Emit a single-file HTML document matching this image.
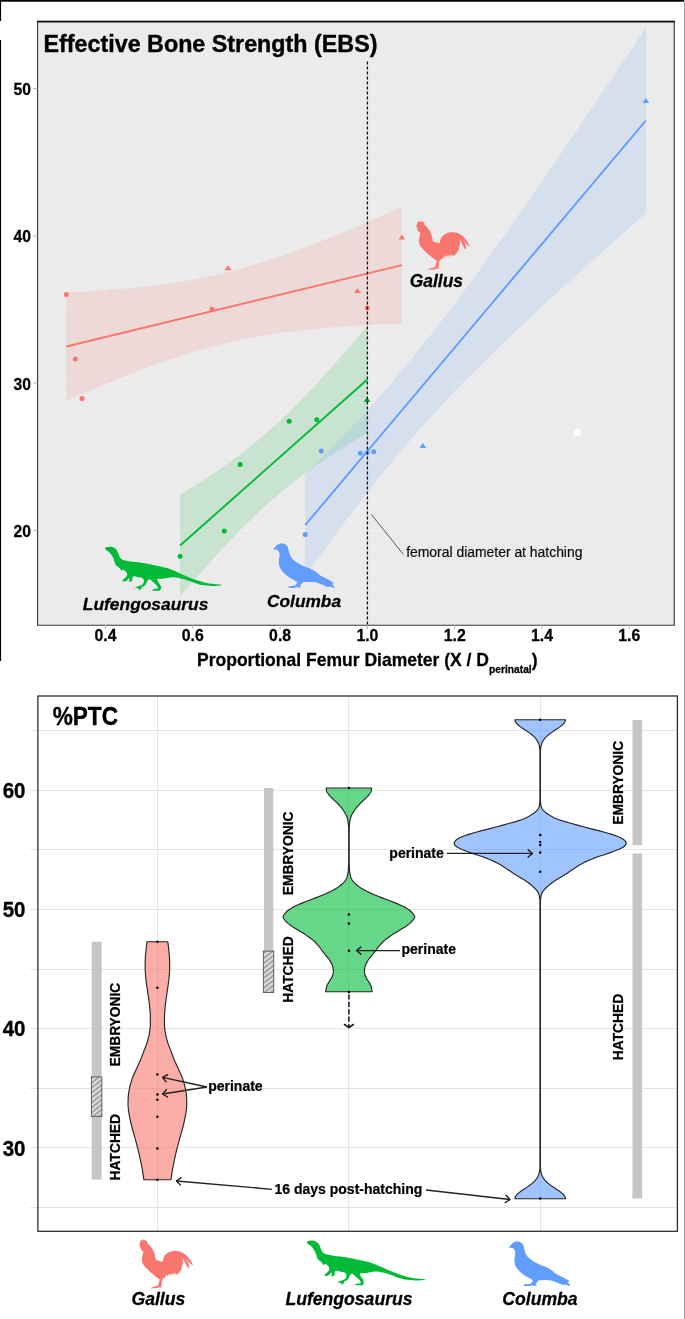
<!DOCTYPE html>
<html lang="en"><head><meta charset="utf-8"><title>EBS and %PTC figure</title>
<style>html,body{margin:0;padding:0;background:#fff}body{width:685px;height:1319px;overflow:hidden}</style></head>
<body>
<svg width="685" height="1319" viewBox="0 0 685 1319" style="display:block;font-family:'Liberation Sans',Arial,Helvetica,sans-serif">
<style>text[font-weight=bold]{stroke:#000;stroke-width:0.016em;stroke-linejoin:round}</style>
<defs>
<path id="rooster" fill="#F8766D" d="M0.63 3.89C0.85 3.26 0.78 2.75 1.09 2.08C1.39 1.41 1.77 0.67 2.17 0.54C2.57 0.42 2.66 1.56 3.08 1.45C3.49 1.34 3.84 0.05 4.25 0.00C4.67 -0.05 4.74 1.07 5.16 1.18C5.57 1.29 5.97 0.42 6.33 0.54C6.70 0.67 6.61 1.50 6.97 1.81C7.33 2.12 7.96 1.67 8.14 2.08C8.33 2.50 7.66 3.29 7.87 3.89C8.09 4.49 8.60 4.47 9.23 5.07C9.86 5.67 10.32 6.03 11.04 6.88C11.76 7.73 12.22 8.29 12.85 9.32C13.48 10.35 13.70 10.86 14.21 12.04C14.71 13.21 15.02 13.94 15.38 15.20C15.75 16.47 15.71 17.25 16.02 18.37C16.33 19.49 16.29 20.18 16.92 20.81C17.56 21.45 18.19 21.29 19.19 21.54C20.18 21.79 21.03 21.97 21.90 22.08C22.77 22.19 23.13 22.55 23.53 22.08C23.93 21.61 23.58 20.74 23.89 19.73C24.20 18.71 24.47 18.01 25.07 17.01C25.67 16.02 25.97 15.57 26.88 14.75C27.78 13.94 28.42 13.52 29.59 12.94C30.77 12.36 31.40 12.13 32.76 11.86C34.12 11.58 34.93 11.53 36.38 11.58C37.83 11.64 38.64 11.76 40.00 12.13C41.36 12.49 41.90 12.69 43.17 13.39C44.43 14.10 45.07 14.53 46.33 15.66C47.60 16.78 48.42 17.68 49.50 19.00C50.59 20.33 50.93 20.96 51.76 22.26C52.60 23.57 53.70 25.01 53.67 25.52C53.63 26.03 52.40 25.32 51.58 24.80C50.77 24.27 50.43 23.69 49.59 22.90C48.76 22.10 48.25 21.57 47.42 20.81C46.59 20.05 45.38 18.95 45.43 19.10C45.48 19.24 46.93 20.47 47.69 21.54C48.45 22.61 48.81 23.08 49.23 24.43C49.65 25.79 49.97 27.64 49.77 28.33C49.57 29.01 48.83 28.51 48.24 27.87C47.64 27.24 47.38 26.24 46.79 25.16C46.19 24.07 45.79 23.53 45.25 22.44C44.71 21.36 44.43 20.42 44.07 19.73C43.71 19.04 43.53 18.46 43.44 19.00C43.35 19.55 43.73 20.94 43.62 22.44C43.51 23.95 43.26 24.98 42.90 26.52C42.53 28.05 42.39 28.87 41.81 30.14C41.23 31.40 40.72 31.95 40.00 32.85C39.28 33.76 38.82 34.21 38.19 34.66C37.56 35.11 37.29 35.38 36.83 35.11C36.38 34.84 36.29 33.21 35.93 33.30C35.57 33.39 35.48 35.48 35.02 35.57C34.57 35.66 34.12 33.57 33.67 33.76C33.21 33.94 33.12 36.38 32.76 36.47C32.40 36.56 32.31 34.21 31.86 34.21C31.40 34.21 30.95 36.38 30.50 36.47C30.05 36.56 30.05 34.57 29.59 34.66C29.14 34.75 28.69 36.74 28.24 36.92C27.78 37.10 27.78 35.38 27.33 35.57C26.88 35.75 26.52 37.19 25.97 37.83C25.43 38.46 25.16 38.28 24.62 38.73C24.07 39.19 23.66 39.37 23.26 40.09C22.86 40.81 22.81 41.36 22.62 42.35C22.44 43.35 22.50 44.16 22.35 45.07C22.21 45.97 21.81 46.33 21.90 46.88C21.99 47.42 22.90 47.51 22.81 47.78C22.71 48.05 21.99 48.24 21.45 48.24C20.90 48.24 20.63 47.73 20.09 47.78C19.55 47.84 19.55 48.29 18.73 48.51C17.92 48.72 17.41 48.78 16.02 48.87C14.62 48.96 12.22 49.18 11.76 48.96C11.31 48.74 12.72 48.16 13.76 47.78C14.79 47.40 15.93 47.42 16.92 47.06C17.92 46.70 18.19 46.73 18.73 45.97C19.28 45.21 19.33 44.34 19.64 43.26C19.95 42.17 20.36 41.36 20.27 40.54C20.18 39.73 19.95 39.82 19.19 39.19C18.43 38.55 17.65 38.28 16.47 37.38C15.29 36.47 14.57 35.75 13.30 34.66C12.04 33.57 11.40 33.12 10.14 31.95C8.87 30.77 8.14 30.05 6.97 28.78C5.79 27.51 5.07 26.88 4.25 25.61C3.44 24.34 3.20 23.80 2.90 22.44C2.59 21.09 2.62 20.27 2.71 18.82C2.81 17.38 3.10 16.47 3.35 15.20C3.60 13.94 4.16 13.30 3.98 12.49C3.80 11.67 2.99 11.76 2.44 11.13C1.90 10.50 1.63 10.14 1.27 9.32C0.90 8.51 0.89 7.87 0.63 7.06C0.38 6.24 0.00 5.88 0.00 5.25C0.00 4.62 0.42 4.52 0.63 3.89Z"/>
<path id="pigeon" fill="#619CFF" d="M0.00 6.07C-0.23 5.63 0.86 4.69 1.52 3.85C2.17 3.01 2.45 2.55 3.27 1.87C4.09 1.19 4.55 0.84 5.61 0.47C6.66 0.09 7.36 -0.05 8.53 0.00C9.69 0.05 10.39 0.16 11.45 0.70C12.50 1.24 13.08 1.71 13.78 2.69C14.48 3.67 14.55 4.32 14.95 5.61C15.35 6.89 15.30 7.59 15.77 9.11C16.23 10.63 16.40 11.68 17.28 13.20C18.17 14.72 18.80 15.42 20.20 16.70C21.61 17.99 22.31 18.45 24.29 19.62C26.28 20.79 27.56 21.37 30.13 22.54C32.70 23.71 34.57 24.18 37.14 25.46C39.71 26.74 41.11 27.68 42.98 28.96C44.85 30.25 44.61 30.72 46.48 31.88C48.35 33.05 50.10 33.64 52.32 34.80C54.54 35.97 55.99 36.79 57.58 37.72C59.16 38.66 60.01 38.89 60.26 39.47C60.52 40.06 58.67 39.80 58.86 40.64C59.05 41.48 61.10 42.98 61.20 43.68C61.29 44.38 60.29 44.29 59.33 44.15C58.37 44.01 57.34 43.07 56.41 42.98C55.47 42.88 55.59 43.77 54.66 43.68C53.72 43.59 53.14 43.07 51.74 42.51C50.34 41.95 49.40 41.55 47.65 40.88C45.90 40.20 44.85 39.59 42.98 39.12C41.11 38.66 40.18 38.66 38.31 38.54C36.44 38.42 35.27 38.49 33.64 38.54C32.00 38.59 31.18 38.42 30.13 38.77C29.08 39.12 29.08 39.54 28.38 40.29C27.68 41.04 26.74 41.83 26.63 42.51C26.51 43.19 28.03 43.33 27.80 43.68C27.56 44.03 26.39 44.26 25.46 44.26C24.53 44.26 23.94 43.68 23.12 43.68C22.31 43.68 22.31 44.10 21.37 44.26C20.44 44.43 19.76 44.54 18.45 44.50C17.14 44.45 15.42 44.33 14.83 44.03C14.25 43.73 14.69 43.28 15.53 42.98C16.37 42.67 17.75 42.72 19.04 42.51C20.32 42.30 21.14 42.39 21.96 41.93C22.77 41.46 22.77 40.85 23.12 40.18C23.47 39.50 24.18 39.22 23.71 38.54C23.24 37.86 22.19 37.61 20.79 36.79C19.39 35.97 18.34 35.50 16.70 34.45C15.07 33.40 14.13 32.82 12.61 31.53C11.09 30.25 10.28 29.43 9.11 28.03C7.94 26.63 7.47 25.97 6.77 24.53C6.07 23.08 5.84 22.47 5.61 20.79C5.37 19.11 5.49 17.87 5.61 16.12C5.72 14.36 6.14 13.43 6.19 12.03C6.24 10.63 6.19 10.11 5.84 9.11C5.49 8.11 5.07 7.61 4.44 7.01C3.81 6.40 3.57 6.26 2.69 6.07C1.80 5.89 0.23 6.52 0.00 6.07Z"/>
<path id="dino" fill="#00BA38" d="M0.00 1.94C0.00 1.33 0.20 0.90 1.02 0.51C1.84 0.12 2.86 0.04 4.09 0.00C5.31 -0.04 6.03 -0.00 7.15 0.31C8.28 0.61 8.79 0.88 9.71 1.53C10.63 2.19 11.08 2.55 11.75 3.58C12.43 4.60 12.57 5.42 13.08 6.64C13.59 7.87 13.65 8.58 14.31 9.71C14.96 10.83 15.23 11.44 16.35 12.26C17.47 13.08 18.09 13.28 19.93 13.80C21.77 14.31 22.99 14.45 25.55 14.82C28.10 15.18 29.84 15.27 32.70 15.63C35.56 16.00 36.79 16.10 39.85 16.66C42.92 17.21 44.76 17.70 48.03 18.39C51.30 19.09 52.83 19.31 56.20 20.13C59.57 20.95 61.21 21.19 64.89 22.48C68.57 23.77 70.76 24.92 74.60 26.57C78.44 28.22 80.30 29.23 84.09 30.75C87.89 32.26 89.79 32.99 93.58 34.16C97.38 35.34 99.65 35.95 103.07 36.63C106.49 37.31 107.89 37.28 110.66 37.58C113.43 37.88 116.93 37.81 116.93 38.15C116.93 38.49 113.81 39.14 110.66 39.29C107.51 39.44 104.97 39.36 101.17 38.91C97.38 38.45 95.48 38.07 91.68 37.01C87.89 35.95 85.61 34.69 82.19 33.59C78.78 32.49 77.64 32.11 74.60 31.51C71.57 30.90 69.87 30.52 67.01 30.56C64.15 30.59 62.45 31.35 60.29 31.68C58.13 32.00 57.84 31.98 56.20 32.19C54.57 32.39 52.63 31.88 52.12 32.70C51.60 33.52 52.93 34.95 53.65 36.28C54.36 37.60 55.39 37.91 55.69 39.34C56.00 40.77 55.90 42.49 55.18 43.43C54.47 44.37 53.69 43.98 52.12 44.04C50.54 44.10 47.93 44.06 47.31 43.74C46.70 43.41 47.99 42.78 49.05 42.41C50.11 42.04 52.01 42.51 52.63 41.90C53.24 41.28 52.83 40.47 52.12 39.34C51.40 38.22 50.28 37.40 49.05 36.28C47.82 35.15 47.01 34.44 45.98 33.72C44.96 33.01 44.66 32.60 43.94 32.70C43.23 32.80 43.02 33.31 42.41 34.23C41.79 35.15 41.59 36.28 40.87 37.30C40.16 38.32 39.65 38.73 38.83 39.34C38.01 39.96 37.40 39.71 36.79 40.36C36.17 41.02 36.38 42.08 35.77 42.61C35.15 43.14 34.33 43.27 33.72 43.02C33.11 42.78 33.46 41.71 32.70 41.39C31.94 41.06 30.15 41.63 29.94 41.39C29.74 41.14 30.62 40.67 31.68 40.16C32.74 39.65 34.03 39.40 35.25 38.83C36.48 38.26 37.09 38.22 37.81 37.30C38.52 36.38 38.93 35.36 38.83 34.23C38.73 33.11 38.32 32.39 37.30 31.68C36.28 30.96 35.46 31.06 33.72 30.66C31.98 30.25 29.88 29.53 28.61 29.63C27.35 29.74 27.69 30.35 27.39 31.17C27.08 31.98 27.45 32.92 27.08 33.72C26.71 34.52 26.16 34.93 25.55 35.15C24.93 35.38 24.22 35.34 24.01 34.85C23.81 34.36 24.63 33.33 24.52 32.70C24.42 32.07 24.01 31.47 23.50 31.68C22.99 31.88 22.79 33.09 21.97 33.72C21.15 34.36 20.38 34.72 19.42 34.85C18.45 34.97 17.27 34.87 17.17 34.33C17.07 33.80 18.05 33.13 18.90 32.19C19.76 31.25 20.85 30.66 21.46 29.63C22.07 28.61 22.17 28.10 21.97 27.08C21.77 26.06 21.25 25.34 20.44 24.52C19.62 23.71 18.70 23.09 17.88 22.99C17.07 22.89 16.96 24.22 16.35 24.01C15.74 23.81 15.43 22.69 14.82 21.97C14.20 21.25 14.00 21.05 13.28 20.44C12.57 19.82 11.96 19.72 11.24 18.90C10.53 18.09 10.22 17.58 9.71 16.35C9.20 15.12 9.20 14.10 8.69 12.77C8.17 11.44 7.87 10.93 7.15 9.71C6.44 8.48 5.93 7.66 5.11 6.64C4.29 5.62 3.88 5.21 3.07 4.60C2.25 3.99 1.63 4.11 1.02 3.58C0.41 3.05 0.00 2.55 0.00 1.94Z"/>
<pattern id="hatch" width="3.9" height="3.9" patternUnits="userSpaceOnUse" patternTransform="rotate(-38)"><rect width="3.9" height="3.9" fill="#dedede"/><line x1="0" y1="1" x2="3.9" y2="1" stroke="#3a3a3a" stroke-width="0.7"/></pattern>
<clipPath id="cpTop"><rect x="38" y="22" width="636" height="603"/></clipPath>
</defs>
<rect width="685" height="1319" fill="#fff"/>
<rect x="0" y="0" width="684.3" height="1.7" fill="#000"/>
<rect x="684.2" y="1.7" width="0.8" height="1317.3" fill="#8c8c8c"/>
<rect x="0" y="0" width="1.1" height="21" fill="#000"/>
<rect x="0" y="40" width="1.1" height="621" fill="#000"/>
<rect x="37.5" y="21.6" width="636.7" height="603.4" fill="#ebebeb"/>
<line x1="37.5" x2="674.2" y1="604.1" y2="604.1" stroke="#f0f0f0" stroke-width="1"/>
<line x1="37.5" x2="674.2" y1="530.4" y2="530.4" stroke="#f0f0f0" stroke-width="1"/>
<line x1="37.5" x2="674.2" y1="456.8" y2="456.8" stroke="#f0f0f0" stroke-width="1"/>
<line x1="37.5" x2="674.2" y1="383.1" y2="383.1" stroke="#f0f0f0" stroke-width="1"/>
<line x1="37.5" x2="674.2" y1="309.5" y2="309.5" stroke="#f0f0f0" stroke-width="1"/>
<line x1="37.5" x2="674.2" y1="235.8" y2="235.8" stroke="#f0f0f0" stroke-width="1"/>
<line x1="37.5" x2="674.2" y1="162.2" y2="162.2" stroke="#f0f0f0" stroke-width="1"/>
<line x1="37.5" x2="674.2" y1="88.5" y2="88.5" stroke="#f0f0f0" stroke-width="1"/>
<line x1="105.5" x2="105.5" y1="21.6" y2="625.0" stroke="#f0f0f0" stroke-width="1"/>
<line x1="192.8" x2="192.8" y1="21.6" y2="625.0" stroke="#f0f0f0" stroke-width="1"/>
<line x1="280.1" x2="280.1" y1="21.6" y2="625.0" stroke="#f0f0f0" stroke-width="1"/>
<line x1="367.4" x2="367.4" y1="21.6" y2="625.0" stroke="#f0f0f0" stroke-width="1"/>
<line x1="454.7" x2="454.7" y1="21.6" y2="625.0" stroke="#f0f0f0" stroke-width="1"/>
<line x1="542.0" x2="542.0" y1="21.6" y2="625.0" stroke="#f0f0f0" stroke-width="1"/>
<line x1="629.3" x2="629.3" y1="21.6" y2="625.0" stroke="#f0f0f0" stroke-width="1"/>
<g clip-path="url(#cpTop)">
<path d="M66.30 292.21L74.91 291.81L83.51 291.38L92.12 290.89L100.72 290.36L109.33 289.76L117.93 289.10L126.54 288.38L135.14 287.57L143.75 286.68L152.35 285.70L160.96 284.62L169.56 283.43L178.17 282.13L186.77 280.71L195.38 279.16L203.98 277.47L212.59 275.64L221.19 273.67L229.80 271.56L238.40 269.30L247.01 266.90L255.61 264.37L264.22 261.70L272.82 258.91L281.43 255.99L290.03 252.97L298.64 249.84L307.24 246.61L315.85 243.30L324.45 239.90L333.06 236.44L341.66 232.90L350.27 229.30L358.87 225.65L367.48 221.94L376.08 218.19L384.69 214.40L393.29 210.57L401.90 206.70L401.90 323.70L393.29 324.00L384.69 324.34L376.08 324.72L367.48 325.13L358.87 325.60L350.27 326.11L341.66 326.69L333.06 327.32L324.45 328.02L315.85 328.79L307.24 329.65L298.64 330.59L290.03 331.63L281.43 332.77L272.82 334.03L264.22 335.41L255.61 336.91L247.01 338.54L238.40 340.31L229.80 342.23L221.19 344.28L212.59 346.48L203.98 348.82L195.38 351.31L186.77 353.92L178.17 356.67L169.56 359.53L160.96 362.52L152.35 365.61L143.75 368.79L135.14 372.07L126.54 375.44L117.93 378.88L109.33 382.39L100.72 385.97L92.12 389.60L83.51 393.28L74.91 397.02L66.30 400.79Z" fill="#F8766D" fill-opacity="0.15"/>
<path d="M180.10 494.50L184.89 491.61L189.69 488.68L194.48 485.70L199.28 482.68L204.07 479.61L208.87 476.48L213.66 473.30L218.46 470.05L223.25 466.73L228.05 463.34L232.84 459.87L237.64 456.32L242.43 452.68L247.23 448.95L252.02 445.12L256.82 441.20L261.61 437.17L266.41 433.04L271.20 428.81L276.00 424.47L280.79 420.03L285.59 415.49L290.38 410.84L295.18 406.10L299.97 401.27L304.77 396.35L309.56 391.34L314.36 386.26L319.15 381.10L323.95 375.87L328.74 370.58L333.54 365.23L338.33 359.82L343.13 354.35L347.92 348.85L352.72 343.29L357.51 337.70L362.31 332.07L367.10 326.40L367.10 433.20L362.31 436.03L357.51 438.90L352.72 441.80L347.92 444.74L343.13 447.73L338.33 450.77L333.54 453.86L328.74 457.00L323.95 460.20L319.15 463.47L314.36 466.81L309.56 470.23L304.77 473.72L299.97 477.29L295.18 480.96L290.38 484.72L285.59 488.57L280.79 492.52L276.00 496.58L271.20 500.74L266.41 505.00L261.61 509.37L256.82 513.84L252.02 518.42L247.23 523.09L242.43 527.85L237.64 532.71L232.84 537.66L228.05 542.69L223.25 547.79L218.46 552.97L213.66 558.22L208.87 563.53L204.07 568.90L199.28 574.33L194.48 579.80L189.69 585.33L184.89 590.89L180.10 596.50Z" fill="#00BA38" fill-opacity="0.15"/>
<path d="M305.20 474.10L313.94 465.54L322.67 456.87L331.41 448.07L340.14 439.12L348.88 430.02L357.62 420.75L366.35 411.28L375.09 401.62L383.82 391.75L392.56 381.67L401.29 371.36L410.03 360.83L418.77 350.08L427.50 339.11L436.24 327.94L444.97 316.57L453.71 305.03L462.45 293.31L471.18 281.45L479.92 269.45L488.65 257.32L497.39 245.08L506.13 232.75L514.86 220.32L523.60 207.81L532.33 195.23L541.07 182.59L549.81 169.89L558.54 157.13L567.28 144.34L576.01 131.50L584.75 118.62L593.48 105.71L602.22 92.77L610.96 79.80L619.69 66.81L628.43 53.79L637.16 40.75L645.90 27.70L645.90 213.30L637.16 221.00L628.43 228.71L619.69 236.44L610.96 244.19L602.22 251.98L593.48 259.78L584.75 267.62L576.01 275.49L567.28 283.40L558.54 291.35L549.81 299.35L541.07 307.40L532.33 315.50L523.60 323.67L514.86 331.91L506.13 340.23L497.39 348.64L488.65 357.15L479.92 365.78L471.18 374.52L462.45 383.41L453.71 392.45L444.97 401.65L436.24 411.03L427.50 420.61L418.77 430.39L410.03 440.39L401.29 450.60L392.56 461.05L383.82 471.71L375.09 482.59L366.35 493.67L357.62 504.96L348.88 516.44L340.14 528.08L331.41 539.88L322.67 551.83L313.94 563.91L305.20 576.10Z" fill="#619CFF" fill-opacity="0.15"/>
<line x1="66.3" y1="346.5" x2="401.9" y2="265.2" stroke="#F8766D" stroke-width="1.9"/>
<line x1="180.1" y1="545.5" x2="367.1" y2="379.8" stroke="#00BA38" stroke-width="1.9"/>
<line x1="305.2" y1="525.1" x2="645.9" y2="120.5" stroke="#619CFF" stroke-width="1.9"/>
<circle cx="66.3" cy="294.4" r="2.5" fill="#F8766D"/>
<circle cx="75.3" cy="359.0" r="2.5" fill="#F8766D"/>
<circle cx="82.0" cy="398.5" r="2.5" fill="#F8766D"/>
<circle cx="212.0" cy="309.3" r="2.5" fill="#F8766D"/>
<circle cx="367.2" cy="307.9" r="2.5" fill="#F8766D"/>
<path d="M228.0 265.2 L231.3 270.2 L224.7 270.2 Z" fill="#F8766D"/>
<path d="M357.4 288.0 L360.7 293.0 L354.1 293.0 Z" fill="#F8766D"/>
<path d="M401.9 234.4 L405.2 239.4 L398.6 239.4 Z" fill="#F8766D"/>
<circle cx="180.1" cy="556.3" r="2.5" fill="#00BA38"/>
<circle cx="224.3" cy="531.0" r="2.5" fill="#00BA38"/>
<circle cx="240.2" cy="464.6" r="2.5" fill="#00BA38"/>
<circle cx="289.2" cy="421.3" r="2.5" fill="#00BA38"/>
<circle cx="316.8" cy="419.8" r="2.5" fill="#00BA38"/>
<path d="M367.1 396.9 L370.4 401.9 L363.8 401.9 Z" fill="#00A030"/>
<circle cx="305.2" cy="534.5" r="2.5" fill="#619CFF"/>
<circle cx="321.2" cy="451.0" r="2.5" fill="#619CFF"/>
<circle cx="360.4" cy="453.3" r="2.5" fill="#619CFF"/>
<circle cx="367.0" cy="452.7" r="2.5" fill="#619CFF"/>
<circle cx="373.8" cy="451.7" r="2.5" fill="#619CFF"/>
<path d="M422.8 442.9 L426.1 447.9 L419.5 447.9 Z" fill="#619CFF"/>
<path d="M645.9 97.9 L649.2 102.9 L642.6 102.9 Z" fill="#619CFF"/>
<circle cx="577.3" cy="432.3" r="3.6" fill="#fff"/>
</g>
<line x1="367.4" x2="367.4" y1="61.4" y2="625" stroke="#111" stroke-width="1.3" stroke-dasharray="3.2 1.8"/>
<line x1="371.2" y1="514.3" x2="403.3" y2="554.3" stroke="#333" stroke-width="0.8"/>
<text x="406.2" y="556.9" font-size="13.92" fill="#0a0a0a" stroke="#0a0a0a" stroke-width="0.18">femoral diameter at hatching</text>
<use href="#rooster" x="416.34" y="220.71"/>
<use href="#pigeon" x="273.41" y="543.41"/>
<use href="#dino" x="105.11" y="546.64"/>
<text transform="translate(409.8 286.8) scale(1 1.05)" font-size="17.4" font-weight="bold" font-style="italic">Gallus</text>
<text x="82.8" y="610" font-size="17.4" font-weight="bold" font-style="italic">Lufengosaurus</text>
<text x="341" y="607.2" font-size="17.3" font-weight="bold" font-style="italic" text-anchor="end">Columba</text>
<path d="M37.55 21 V625.25 H674.3 V21" fill="none" stroke="#3a3a3a" stroke-width="1.15" stroke-linejoin="miter"/>
<rect x="37" y="20.7" width="637.9" height="1.8" fill="#0a0a0a"/>
<text x="43.5" y="51.6" font-size="23.3" font-weight="bold">Effective Bone Strength (EBS)</text>
<line x1="33.5" x2="37.5" y1="530.4" y2="530.4" stroke="#b5b5b5" stroke-width="1"/>
<text transform="translate(31 537.0) scale(1 1.06)" font-size="15.7" font-weight="bold" text-anchor="end">20</text>
<line x1="33.5" x2="37.5" y1="383.1" y2="383.1" stroke="#b5b5b5" stroke-width="1"/>
<text transform="translate(31 389.7) scale(1 1.06)" font-size="15.7" font-weight="bold" text-anchor="end">30</text>
<line x1="33.5" x2="37.5" y1="235.8" y2="235.8" stroke="#b5b5b5" stroke-width="1"/>
<text transform="translate(31 242.4) scale(1 1.06)" font-size="15.7" font-weight="bold" text-anchor="end">40</text>
<line x1="33.5" x2="37.5" y1="88.5" y2="88.5" stroke="#b5b5b5" stroke-width="1"/>
<text transform="translate(31 95.1) scale(1 1.06)" font-size="15.7" font-weight="bold" text-anchor="end">50</text>
<line x1="105.5" x2="105.5" y1="625.0" y2="629" stroke="#b5b5b5" stroke-width="1"/>
<text x="105.5" y="640.7" font-size="15.8" font-weight="bold" text-anchor="middle">0.4</text>
<line x1="192.8" x2="192.8" y1="625.0" y2="629" stroke="#b5b5b5" stroke-width="1"/>
<text x="192.8" y="640.7" font-size="15.8" font-weight="bold" text-anchor="middle">0.6</text>
<line x1="280.1" x2="280.1" y1="625.0" y2="629" stroke="#b5b5b5" stroke-width="1"/>
<text x="280.1" y="640.7" font-size="15.8" font-weight="bold" text-anchor="middle">0.8</text>
<line x1="367.4" x2="367.4" y1="625.0" y2="629" stroke="#b5b5b5" stroke-width="1"/>
<text x="367.4" y="640.7" font-size="15.8" font-weight="bold" text-anchor="middle">1.0</text>
<line x1="454.7" x2="454.7" y1="625.0" y2="629" stroke="#b5b5b5" stroke-width="1"/>
<text x="454.7" y="640.7" font-size="15.8" font-weight="bold" text-anchor="middle">1.2</text>
<line x1="542.0" x2="542.0" y1="625.0" y2="629" stroke="#b5b5b5" stroke-width="1"/>
<text x="542.0" y="640.7" font-size="15.8" font-weight="bold" text-anchor="middle">1.4</text>
<line x1="629.3" x2="629.3" y1="625.0" y2="629" stroke="#b5b5b5" stroke-width="1"/>
<text x="629.3" y="640.7" font-size="15.8" font-weight="bold" text-anchor="middle">1.6</text>
<text x="197" y="665.5" font-size="17.52" font-weight="bold">Proportional Femur Diameter (X / D<tspan font-size="10.25" dy="7.2">perinatal</tspan><tspan dy="-7.2">)</tspan></text>
<rect x="37.9" y="696.0" width="639.5" height="535.3" fill="#fff"/>
<line x1="30.5" x2="677.4" y1="1207.5" y2="1207.5" stroke="#e4e4e4" stroke-width="1"/>
<line x1="30.5" x2="677.4" y1="1147.5" y2="1147.5" stroke="#e4e4e4" stroke-width="1"/>
<line x1="30.5" x2="677.4" y1="1088.5" y2="1088.5" stroke="#e4e4e4" stroke-width="1"/>
<line x1="30.5" x2="677.4" y1="1028.5" y2="1028.5" stroke="#e4e4e4" stroke-width="1"/>
<line x1="30.5" x2="677.4" y1="969.5" y2="969.5" stroke="#e4e4e4" stroke-width="1"/>
<line x1="30.5" x2="677.4" y1="909.5" y2="909.5" stroke="#e4e4e4" stroke-width="1"/>
<line x1="30.5" x2="677.4" y1="849.5" y2="849.5" stroke="#e4e4e4" stroke-width="1"/>
<line x1="30.5" x2="677.4" y1="790.5" y2="790.5" stroke="#e4e4e4" stroke-width="1"/>
<line x1="30.5" x2="677.4" y1="730.5" y2="730.5" stroke="#e4e4e4" stroke-width="1"/>
<line x1="157.5" x2="157.5" y1="696.0" y2="1231.3" stroke="#e4e4e4" stroke-width="1"/>
<line x1="348.5" x2="348.5" y1="696.0" y2="1231.3" stroke="#e4e4e4" stroke-width="1"/>
<line x1="540.5" x2="540.5" y1="696.0" y2="1231.3" stroke="#e4e4e4" stroke-width="1"/>
<rect x="91.7" y="941.7" width="9.9" height="237.9" fill="#c6c6c6"/>
<rect x="91.3" y="1076.9" width="10.6" height="39.4" fill="url(#hatch)" stroke="#444" stroke-width="0.8"/>
<rect x="264.0" y="788.0" width="9.3" height="203.6" fill="#c6c6c6"/>
<rect x="263.3" y="951.1" width="10.5" height="41.5" fill="url(#hatch)" stroke="#444" stroke-width="0.8"/>
<rect x="632.5" y="720.0" width="9.7" height="125.2" fill="#c6c6c6"/>
<rect x="632.5" y="853.4" width="9.7" height="345.1" fill="#c6c6c6"/>
<text transform="translate(120.3 1024.6) rotate(-90)" font-size="13.8" font-weight="bold" text-anchor="middle">EMBRYONIC</text>
<text transform="translate(120.3 1147.2) rotate(-90)" font-size="13.8" font-weight="bold" text-anchor="middle">HATCHED</text>
<path d="M147.01 941.77L146.88 942.69L146.76 943.61L146.64 944.53L146.53 945.45L146.42 946.37L146.32 947.29L146.21 948.20L146.12 949.12L146.02 950.04L145.92 950.96L145.82 951.88L145.73 952.80L145.63 953.72L145.55 954.64L145.47 955.55L145.40 956.47L145.35 957.39L145.31 958.31L145.29 959.23L145.26 960.15L145.23 961.07L145.21 961.98L145.19 962.90L145.17 963.82L145.16 964.74L145.15 965.66L145.14 966.58L145.14 967.50L145.14 968.42L145.16 969.33L145.19 970.25L145.24 971.17L145.29 972.09L145.35 973.01L145.42 973.93L145.49 974.85L145.56 975.76L145.63 976.68L145.71 977.60L145.80 978.52L145.89 979.44L146.00 980.36L146.12 981.28L146.24 982.19L146.37 983.11L146.50 984.03L146.63 984.95L146.76 985.87L146.89 986.79L147.02 987.71L147.15 988.63L147.29 989.54L147.43 990.46L147.58 991.38L147.72 992.30L147.86 993.22L148.00 994.14L148.14 995.06L148.27 995.97L148.40 996.89L148.53 997.81L148.66 998.73L148.79 999.65L148.91 1000.57L149.04 1001.49L149.16 1002.41L149.27 1003.32L149.37 1004.24L149.47 1005.16L149.56 1006.08L149.66 1007.00L149.75 1007.92L149.84 1008.84L149.93 1009.75L150.01 1010.67L150.08 1011.59L150.14 1012.51L150.19 1013.43L150.22 1014.35L150.24 1015.27L150.25 1016.19L150.27 1017.10L150.29 1018.02L150.30 1018.94L150.31 1019.86L150.32 1020.78L150.33 1021.70L150.33 1022.62L150.33 1023.53L150.33 1024.45L150.29 1025.37L150.24 1026.29L150.16 1027.21L150.07 1028.13L149.96 1029.05L149.84 1029.97L149.72 1030.88L149.59 1031.80L149.45 1032.72L149.32 1033.64L149.16 1034.56L148.97 1035.48L148.76 1036.40L148.54 1037.31L148.29 1038.23L148.04 1039.15L147.77 1040.07L147.50 1040.99L147.23 1041.91L146.95 1042.83L146.65 1043.75L146.33 1044.66L145.99 1045.58L145.64 1046.50L145.28 1047.42L144.92 1048.34L144.55 1049.26L144.18 1050.18L143.82 1051.09L143.48 1052.01L143.14 1052.93L142.80 1053.85L142.46 1054.77L142.13 1055.69L141.79 1056.61L141.44 1057.53L141.09 1058.44L140.72 1059.36L140.35 1060.28L139.96 1061.20L139.55 1062.12L139.13 1063.04L138.71 1063.96L138.28 1064.87L137.84 1065.79L137.41 1066.71L136.98 1067.63L136.56 1068.55L136.15 1069.47L135.73 1070.39L135.31 1071.31L134.89 1072.22L134.46 1073.14L134.05 1074.06L133.64 1074.98L133.24 1075.90L132.87 1076.82L132.51 1077.74L132.18 1078.65L131.87 1079.57L131.57 1080.49L131.28 1081.41L130.99 1082.33L130.72 1083.25L130.46 1084.17L130.21 1085.09L129.98 1086.00L129.77 1086.92L129.58 1087.84L129.41 1088.76L129.23 1089.68L129.06 1090.60L128.90 1091.52L128.74 1092.43L128.60 1093.35L128.47 1094.27L128.37 1095.19L128.28 1096.11L128.22 1097.03L128.18 1097.95L128.14 1098.87L128.11 1099.78L128.08 1100.70L128.06 1101.62L128.04 1102.54L128.03 1103.46L128.03 1104.38L128.05 1105.30L128.09 1106.21L128.17 1107.13L128.26 1108.05L128.37 1108.97L128.48 1109.89L128.60 1110.81L128.71 1111.73L128.84 1112.65L128.98 1113.56L129.14 1114.48L129.31 1115.40L129.49 1116.32L129.68 1117.24L129.87 1118.16L130.07 1119.08L130.27 1119.99L130.46 1120.91L130.66 1121.83L130.87 1122.75L131.08 1123.67L131.30 1124.59L131.53 1125.51L131.76 1126.43L131.99 1127.34L132.23 1128.26L132.47 1129.18L132.71 1130.10L132.95 1131.02L133.20 1131.94L133.46 1132.86L133.72 1133.77L133.98 1134.69L134.25 1135.61L134.51 1136.53L134.78 1137.45L135.04 1138.37L135.29 1139.29L135.54 1140.21L135.80 1141.12L136.05 1142.04L136.30 1142.96L136.56 1143.88L136.81 1144.80L137.05 1145.72L137.30 1146.64L137.53 1147.55L137.77 1148.47L137.99 1149.39L138.22 1150.31L138.44 1151.23L138.66 1152.15L138.87 1153.07L139.08 1153.99L139.29 1154.90L139.50 1155.82L139.70 1156.74L139.90 1157.66L140.10 1158.58L140.30 1159.50L140.50 1160.42L140.70 1161.33L140.89 1162.25L141.09 1163.17L141.28 1164.09L141.46 1165.01L141.64 1165.93L141.82 1166.85L141.98 1167.77L142.15 1168.68L142.31 1169.60L142.46 1170.52L142.61 1171.44L142.76 1172.36L142.91 1173.28L143.05 1174.20L143.19 1175.11L143.33 1176.03L143.47 1176.95L143.60 1177.87L143.73 1178.79L143.85 1179.71L170.95 1179.71L171.07 1178.79L171.20 1177.87L171.33 1176.95L171.47 1176.03L171.61 1175.11L171.75 1174.20L171.89 1173.28L172.04 1172.36L172.19 1171.44L172.34 1170.52L172.49 1169.60L172.65 1168.68L172.82 1167.77L172.98 1166.85L173.16 1165.93L173.34 1165.01L173.52 1164.09L173.71 1163.17L173.91 1162.25L174.10 1161.33L174.30 1160.42L174.50 1159.50L174.70 1158.58L174.90 1157.66L175.10 1156.74L175.30 1155.82L175.51 1154.90L175.72 1153.99L175.93 1153.07L176.14 1152.15L176.36 1151.23L176.58 1150.31L176.81 1149.39L177.03 1148.47L177.27 1147.55L177.50 1146.64L177.75 1145.72L177.99 1144.80L178.24 1143.88L178.50 1142.96L178.75 1142.04L179.00 1141.12L179.26 1140.21L179.51 1139.29L179.76 1138.37L180.02 1137.45L180.29 1136.53L180.55 1135.61L180.82 1134.69L181.08 1133.77L181.34 1132.86L181.60 1131.94L181.85 1131.02L182.09 1130.10L182.33 1129.18L182.57 1128.26L182.81 1127.34L183.04 1126.43L183.27 1125.51L183.50 1124.59L183.72 1123.67L183.93 1122.75L184.14 1121.83L184.34 1120.91L184.53 1119.99L184.73 1119.08L184.93 1118.16L185.12 1117.24L185.31 1116.32L185.49 1115.40L185.66 1114.48L185.82 1113.56L185.96 1112.65L186.09 1111.73L186.20 1110.81L186.32 1109.89L186.43 1108.97L186.54 1108.05L186.63 1107.13L186.71 1106.21L186.75 1105.30L186.77 1104.38L186.77 1103.46L186.76 1102.54L186.74 1101.62L186.72 1100.70L186.69 1099.78L186.66 1098.87L186.62 1097.95L186.58 1097.03L186.52 1096.11L186.43 1095.19L186.33 1094.27L186.20 1093.35L186.06 1092.43L185.90 1091.52L185.74 1090.60L185.57 1089.68L185.39 1088.76L185.22 1087.84L185.03 1086.92L184.82 1086.00L184.59 1085.09L184.34 1084.17L184.08 1083.25L183.81 1082.33L183.52 1081.41L183.23 1080.49L182.93 1079.57L182.62 1078.65L182.29 1077.74L181.93 1076.82L181.56 1075.90L181.16 1074.98L180.75 1074.06L180.34 1073.14L179.91 1072.22L179.49 1071.31L179.07 1070.39L178.65 1069.47L178.24 1068.55L177.82 1067.63L177.39 1066.71L176.96 1065.79L176.52 1064.87L176.09 1063.96L175.67 1063.04L175.25 1062.12L174.84 1061.20L174.45 1060.28L174.08 1059.36L173.71 1058.44L173.36 1057.53L173.01 1056.61L172.67 1055.69L172.34 1054.77L172.00 1053.85L171.66 1052.93L171.32 1052.01L170.98 1051.09L170.62 1050.18L170.25 1049.26L169.88 1048.34L169.52 1047.42L169.16 1046.50L168.81 1045.58L168.47 1044.66L168.15 1043.75L167.85 1042.83L167.57 1041.91L167.30 1040.99L167.03 1040.07L166.76 1039.15L166.51 1038.23L166.26 1037.31L166.04 1036.40L165.83 1035.48L165.64 1034.56L165.48 1033.64L165.35 1032.72L165.21 1031.80L165.08 1030.88L164.96 1029.97L164.84 1029.05L164.73 1028.13L164.64 1027.21L164.56 1026.29L164.51 1025.37L164.47 1024.45L164.47 1023.53L164.47 1022.62L164.47 1021.70L164.48 1020.78L164.49 1019.86L164.50 1018.94L164.51 1018.02L164.53 1017.10L164.55 1016.19L164.56 1015.27L164.58 1014.35L164.61 1013.43L164.66 1012.51L164.72 1011.59L164.79 1010.67L164.87 1009.75L164.96 1008.84L165.05 1007.92L165.14 1007.00L165.24 1006.08L165.33 1005.16L165.43 1004.24L165.53 1003.32L165.64 1002.41L165.76 1001.49L165.89 1000.57L166.01 999.65L166.14 998.73L166.27 997.81L166.40 996.89L166.53 995.97L166.66 995.06L166.80 994.14L166.94 993.22L167.08 992.30L167.22 991.38L167.37 990.46L167.51 989.54L167.65 988.63L167.78 987.71L167.91 986.79L168.04 985.87L168.17 984.95L168.30 984.03L168.43 983.11L168.56 982.19L168.68 981.28L168.80 980.36L168.91 979.44L169.00 978.52L169.09 977.60L169.17 976.68L169.24 975.76L169.31 974.85L169.38 973.93L169.45 973.01L169.51 972.09L169.56 971.17L169.61 970.25L169.64 969.33L169.66 968.42L169.66 967.50L169.66 966.58L169.65 965.66L169.64 964.74L169.63 963.82L169.61 962.90L169.59 961.98L169.57 961.07L169.54 960.15L169.51 959.23L169.49 958.31L169.45 957.39L169.40 956.47L169.33 955.55L169.25 954.64L169.17 953.72L169.07 952.80L168.98 951.88L168.88 950.96L168.78 950.04L168.68 949.12L168.59 948.20L168.48 947.29L168.38 946.37L168.27 945.45L168.16 944.53L168.04 943.61L167.92 942.69L167.79 941.77Z" fill="#F8766D" fill-opacity="0.6" stroke="#262626" stroke-width="1.15" stroke-linejoin="round"/>
<path d="M326.20 788.00L326.23 788.79L326.31 789.57L326.43 790.36L326.65 791.15L327.00 791.93L327.46 792.72L327.99 793.51L328.56 794.29L329.14 795.08L329.74 795.87L330.45 796.65L331.24 797.44L332.08 798.23L332.94 799.01L333.78 799.80L334.59 800.59L335.39 801.37L336.21 802.16L337.02 802.95L337.82 803.73L338.60 804.52L339.33 805.31L340.02 806.09L340.70 806.88L341.35 807.67L341.98 808.46L342.58 809.24L343.15 810.03L343.68 810.82L344.19 811.60L344.68 812.39L345.16 813.18L345.60 813.96L346.00 814.75L346.35 815.54L346.64 816.32L346.92 817.11L347.17 817.90L347.40 818.68L347.61 819.47L347.78 820.26L347.92 821.04L348.05 821.83L348.17 822.62L348.28 823.40L348.37 824.19L348.44 824.98L348.49 825.76L348.52 826.55L348.54 827.34L348.56 828.12L348.58 828.91L348.60 829.70L348.61 830.48L348.62 831.27L348.63 832.06L348.64 832.84L348.65 833.63L348.65 834.42L348.65 835.20L348.65 835.99L348.65 836.78L348.65 837.56L348.65 838.35L348.65 839.14L348.65 839.92L348.65 840.71L348.65 841.50L348.65 842.28L348.65 843.07L348.65 843.86L348.65 844.64L348.65 845.43L348.65 846.22L348.65 847.00L348.65 847.79L348.65 848.58L348.65 849.37L348.65 850.15L348.65 850.94L348.65 851.73L348.65 852.51L348.65 853.30L348.65 854.09L348.65 854.87L348.65 855.66L348.65 856.45L348.65 857.23L348.65 858.02L348.65 858.81L348.65 859.59L348.65 860.38L348.64 861.17L348.63 861.95L348.62 862.74L348.60 863.53L348.58 864.31L348.55 865.10L348.52 865.89L348.49 866.67L348.45 867.46L348.41 868.25L348.37 869.03L348.32 869.82L348.27 870.61L348.20 871.39L348.09 872.18L347.97 872.97L347.83 873.75L347.67 874.54L347.49 875.33L347.29 876.11L347.04 876.90L346.74 877.69L346.40 878.47L346.02 879.26L345.60 880.05L345.12 880.83L344.52 881.62L343.81 882.41L343.00 883.19L342.12 883.98L341.19 884.77L340.23 885.55L339.21 886.34L338.10 887.13L336.89 887.92L335.62 888.70L334.27 889.49L332.87 890.28L331.42 891.06L329.86 891.85L328.20 892.64L326.46 893.42L324.66 894.21L322.81 895.00L320.94 895.78L319.01 896.57L316.97 897.36L314.88 898.14L312.76 898.93L310.66 899.72L308.60 900.50L306.62 901.29L304.62 902.08L302.61 902.86L300.64 903.65L298.75 904.44L296.99 905.22L295.38 906.01L293.88 906.80L292.42 907.58L291.04 908.37L289.75 909.16L288.60 909.94L287.60 910.73L286.77 911.52L285.98 912.30L285.25 913.09L284.59 913.88L284.02 914.66L283.58 915.45L283.29 916.24L283.11 917.02L283.22 917.81L283.64 918.60L284.25 919.38L284.92 920.17L285.57 920.96L286.29 921.74L287.11 922.53L287.99 923.32L288.93 924.10L289.91 924.89L290.93 925.68L292.04 926.46L293.26 927.25L294.55 928.04L295.88 928.83L297.21 929.61L298.52 930.40L299.79 931.19L301.08 931.97L302.38 932.76L303.67 933.55L304.94 934.33L306.15 935.12L307.31 935.91L308.42 936.69L309.51 937.48L310.57 938.27L311.58 939.05L312.55 939.84L313.47 940.63L314.33 941.41L315.16 942.20L315.94 942.99L316.70 943.77L317.42 944.56L318.11 945.35L318.78 946.13L319.40 946.92L319.99 947.71L320.55 948.49L321.11 949.28L321.67 950.07L322.25 950.85L322.86 951.64L323.48 952.43L324.12 953.21L324.76 954.00L325.40 954.79L326.03 955.57L326.65 956.36L327.28 957.15L327.93 957.93L328.58 958.72L329.19 959.51L329.77 960.29L330.27 961.08L330.71 961.87L331.14 962.65L331.54 963.44L331.91 964.23L332.23 965.01L332.50 965.80L332.69 966.59L332.85 967.38L333.01 968.16L333.14 968.95L333.25 969.74L333.33 970.52L333.37 971.31L333.35 972.10L333.25 972.88L333.08 973.67L332.87 974.46L332.62 975.24L332.35 976.03L332.08 976.82L331.72 977.60L331.26 978.39L330.75 979.18L330.21 979.96L329.68 980.75L329.20 981.54L328.75 982.32L328.30 983.11L327.84 983.90L327.41 984.68L327.03 985.47L326.71 986.26L326.47 987.04L326.30 987.83L326.15 988.62L326.02 989.40L325.90 990.19L325.78 990.98L325.65 991.76L372.15 991.76L372.02 990.98L371.90 990.19L371.78 989.40L371.65 988.62L371.50 987.83L371.33 987.04L371.09 986.26L370.77 985.47L370.39 984.68L369.96 983.90L369.50 983.11L369.05 982.32L368.60 981.54L368.12 980.75L367.59 979.96L367.05 979.18L366.54 978.39L366.08 977.60L365.72 976.82L365.45 976.03L365.18 975.24L364.93 974.46L364.72 973.67L364.55 972.88L364.45 972.10L364.43 971.31L364.47 970.52L364.55 969.74L364.66 968.95L364.79 968.16L364.95 967.38L365.11 966.59L365.30 965.80L365.57 965.01L365.89 964.23L366.26 963.44L366.66 962.65L367.09 961.87L367.53 961.08L368.03 960.29L368.61 959.51L369.22 958.72L369.87 957.93L370.52 957.15L371.15 956.36L371.77 955.57L372.40 954.79L373.04 954.00L373.68 953.21L374.32 952.43L374.94 951.64L375.55 950.85L376.13 950.07L376.69 949.28L377.25 948.49L377.81 947.71L378.40 946.92L379.02 946.13L379.69 945.35L380.38 944.56L381.10 943.77L381.86 942.99L382.64 942.20L383.47 941.41L384.33 940.63L385.25 939.84L386.22 939.05L387.23 938.27L388.29 937.48L389.38 936.69L390.49 935.91L391.65 935.12L392.86 934.33L394.13 933.55L395.42 932.76L396.72 931.97L398.01 931.19L399.28 930.40L400.59 929.61L401.92 928.83L403.25 928.04L404.54 927.25L405.76 926.46L406.87 925.68L407.89 924.89L408.87 924.10L409.81 923.32L410.69 922.53L411.51 921.74L412.23 920.96L412.88 920.17L413.55 919.38L414.16 918.60L414.58 917.81L414.69 917.02L414.51 916.24L414.22 915.45L413.78 914.66L413.21 913.88L412.55 913.09L411.82 912.30L411.03 911.52L410.20 910.73L409.20 909.94L408.05 909.16L406.76 908.37L405.38 907.58L403.92 906.80L402.42 906.01L400.81 905.22L399.05 904.44L397.16 903.65L395.19 902.86L393.18 902.08L391.18 901.29L389.20 900.50L387.14 899.72L385.04 898.93L382.92 898.14L380.83 897.36L378.79 896.57L376.86 895.78L374.99 895.00L373.14 894.21L371.34 893.42L369.60 892.64L367.94 891.85L366.38 891.06L364.93 890.28L363.53 889.49L362.18 888.70L360.91 887.92L359.70 887.13L358.59 886.34L357.57 885.55L356.61 884.77L355.68 883.98L354.80 883.19L353.99 882.41L353.28 881.62L352.68 880.83L352.20 880.05L351.78 879.26L351.40 878.47L351.06 877.69L350.76 876.90L350.51 876.11L350.31 875.33L350.13 874.54L349.97 873.75L349.83 872.97L349.71 872.18L349.60 871.39L349.53 870.61L349.48 869.82L349.43 869.03L349.39 868.25L349.35 867.46L349.31 866.67L349.28 865.89L349.25 865.10L349.22 864.31L349.20 863.53L349.18 862.74L349.17 861.95L349.16 861.17L349.15 860.38L349.15 859.59L349.15 858.81L349.15 858.02L349.15 857.23L349.15 856.45L349.15 855.66L349.15 854.87L349.15 854.09L349.15 853.30L349.15 852.51L349.15 851.73L349.15 850.94L349.15 850.15L349.15 849.37L349.15 848.58L349.15 847.79L349.15 847.00L349.15 846.22L349.15 845.43L349.15 844.64L349.15 843.86L349.15 843.07L349.15 842.28L349.15 841.50L349.15 840.71L349.15 839.92L349.15 839.14L349.15 838.35L349.15 837.56L349.15 836.78L349.15 835.99L349.15 835.20L349.15 834.42L349.15 833.63L349.16 832.84L349.17 832.06L349.18 831.27L349.19 830.48L349.20 829.70L349.22 828.91L349.24 828.12L349.26 827.34L349.28 826.55L349.31 825.76L349.36 824.98L349.43 824.19L349.52 823.40L349.63 822.62L349.75 821.83L349.88 821.04L350.02 820.26L350.19 819.47L350.40 818.68L350.63 817.90L350.88 817.11L351.16 816.32L351.45 815.54L351.80 814.75L352.20 813.96L352.64 813.18L353.12 812.39L353.61 811.60L354.12 810.82L354.65 810.03L355.22 809.24L355.82 808.46L356.45 807.67L357.10 806.88L357.78 806.09L358.47 805.31L359.20 804.52L359.98 803.73L360.78 802.95L361.59 802.16L362.41 801.37L363.21 800.59L364.02 799.80L364.86 799.01L365.72 798.23L366.56 797.44L367.35 796.65L368.06 795.87L368.66 795.08L369.24 794.29L369.81 793.51L370.34 792.72L370.80 791.93L371.15 791.15L371.37 790.36L371.49 789.57L371.57 788.79L371.60 788.00Z" fill="#00BA38" fill-opacity="0.6" stroke="#262626" stroke-width="1.15" stroke-linejoin="round"/>
<path d="M514.90 719.70L515.34 721.55L516.55 723.40L518.45 725.25L520.86 727.10L523.56 728.95L526.36 730.80L529.07 732.65L531.55 734.50L533.69 736.34L535.47 738.19L536.87 740.04L537.94 741.89L538.71 743.74L539.25 745.59L539.62 747.44L539.85 749.29L539.95 751.14L539.95 752.99L539.95 754.84L539.95 756.69L539.95 758.54L539.95 760.39L539.95 762.24L539.95 764.09L539.95 765.94L539.95 767.78L539.95 769.63L539.95 771.48L539.95 773.33L539.95 775.18L539.95 777.03L539.95 778.88L539.95 780.73L539.95 782.58L539.95 784.43L539.95 786.28L539.95 788.13L539.95 789.98L539.95 791.83L539.95 793.68L539.95 795.53L539.95 797.38L539.95 799.23L539.93 801.07L539.79 802.92L539.56 804.77L539.21 806.62L538.36 808.47L537.13 810.32L535.20 812.17L532.59 814.02L529.79 815.87L526.54 817.72L522.33 819.57L516.29 821.42L509.57 823.27L502.94 825.12L496.08 826.97L489.04 828.82L481.76 830.67L475.02 832.51L468.63 834.36L463.21 836.21L459.14 838.06L456.20 839.91L454.56 841.76L454.14 843.61L455.13 845.46L457.37 847.31L461.46 849.16L465.84 851.01L470.84 852.86L476.27 854.71L481.92 856.56L486.93 858.41L491.56 860.26L495.55 862.11L499.00 863.95L502.13 865.80L504.98 867.65L507.68 869.50L510.42 871.35L513.16 873.20L516.06 875.05L519.18 876.90L522.26 878.75L525.17 880.60L527.92 882.45L530.35 884.30L532.54 886.15L534.48 888.00L536.30 889.85L537.72 891.70L538.57 893.55L539.18 895.39L539.56 897.24L539.85 899.09L539.95 900.94L539.95 902.79L539.95 904.64L539.95 906.49L539.95 908.34L539.95 910.19L539.95 912.04L539.95 913.89L539.95 915.74L539.95 917.59L539.95 919.44L539.95 921.29L539.95 923.14L539.95 924.99L539.95 926.84L539.95 928.68L539.95 930.53L539.95 932.38L539.95 934.23L539.95 936.08L539.95 937.93L539.95 939.78L539.95 941.63L539.95 943.48L539.95 945.33L539.95 947.18L539.95 949.03L539.95 950.88L539.95 952.73L539.95 954.58L539.95 956.43L539.95 958.28L539.95 960.12L539.95 961.97L539.95 963.82L539.95 965.67L539.95 967.52L539.95 969.37L539.95 971.22L539.95 973.07L539.95 974.92L539.95 976.77L539.95 978.62L539.95 980.47L539.95 982.32L539.95 984.17L539.95 986.02L539.95 987.87L539.95 989.72L539.95 991.56L539.95 993.41L539.95 995.26L539.95 997.11L539.95 998.96L539.95 1000.81L539.95 1002.66L539.95 1004.51L539.95 1006.36L539.95 1008.21L539.95 1010.06L539.95 1011.91L539.95 1013.76L539.95 1015.61L539.95 1017.46L539.95 1019.31L539.95 1021.16L539.95 1023.01L539.95 1024.85L539.95 1026.70L539.95 1028.55L539.95 1030.40L539.95 1032.25L539.95 1034.10L539.95 1035.95L539.95 1037.80L539.95 1039.65L539.95 1041.50L539.95 1043.35L539.95 1045.20L539.95 1047.05L539.95 1048.90L539.95 1050.75L539.95 1052.60L539.95 1054.45L539.95 1056.29L539.95 1058.14L539.95 1059.99L539.95 1061.84L539.95 1063.69L539.95 1065.54L539.95 1067.39L539.95 1069.24L539.95 1071.09L539.95 1072.94L539.95 1074.79L539.95 1076.64L539.95 1078.49L539.95 1080.34L539.95 1082.19L539.95 1084.04L539.95 1085.89L539.95 1087.73L539.95 1089.58L539.95 1091.43L539.95 1093.28L539.95 1095.13L539.95 1096.98L539.95 1098.83L539.95 1100.68L539.95 1102.53L539.95 1104.38L539.95 1106.23L539.95 1108.08L539.95 1109.93L539.95 1111.78L539.95 1113.63L539.95 1115.48L539.95 1117.33L539.95 1119.17L539.95 1121.02L539.95 1122.87L539.95 1124.72L539.95 1126.57L539.95 1128.42L539.95 1130.27L539.95 1132.12L539.95 1133.97L539.95 1135.82L539.95 1137.67L539.95 1139.52L539.95 1141.37L539.95 1143.22L539.95 1145.07L539.95 1146.92L539.95 1148.77L539.95 1150.62L539.95 1152.46L539.95 1154.31L539.95 1156.16L539.95 1158.01L539.95 1159.86L539.95 1161.71L539.95 1163.56L539.95 1165.41L539.95 1167.26L539.85 1169.11L539.62 1170.96L539.25 1172.81L538.71 1174.66L537.94 1176.51L536.87 1178.36L535.47 1180.21L533.69 1182.06L531.55 1183.90L529.07 1185.75L526.36 1187.60L523.56 1189.45L520.86 1191.30L518.45 1193.15L516.55 1195.00L515.34 1196.85L514.90 1198.70L565.50 1198.70L565.06 1196.85L563.85 1195.00L561.95 1193.15L559.54 1191.30L556.84 1189.45L554.04 1187.60L551.33 1185.75L548.85 1183.90L546.71 1182.06L544.93 1180.21L543.53 1178.36L542.46 1176.51L541.69 1174.66L541.15 1172.81L540.78 1170.96L540.55 1169.11L540.45 1167.26L540.45 1165.41L540.45 1163.56L540.45 1161.71L540.45 1159.86L540.45 1158.01L540.45 1156.16L540.45 1154.31L540.45 1152.46L540.45 1150.62L540.45 1148.77L540.45 1146.92L540.45 1145.07L540.45 1143.22L540.45 1141.37L540.45 1139.52L540.45 1137.67L540.45 1135.82L540.45 1133.97L540.45 1132.12L540.45 1130.27L540.45 1128.42L540.45 1126.57L540.45 1124.72L540.45 1122.87L540.45 1121.02L540.45 1119.17L540.45 1117.33L540.45 1115.48L540.45 1113.63L540.45 1111.78L540.45 1109.93L540.45 1108.08L540.45 1106.23L540.45 1104.38L540.45 1102.53L540.45 1100.68L540.45 1098.83L540.45 1096.98L540.45 1095.13L540.45 1093.28L540.45 1091.43L540.45 1089.58L540.45 1087.73L540.45 1085.89L540.45 1084.04L540.45 1082.19L540.45 1080.34L540.45 1078.49L540.45 1076.64L540.45 1074.79L540.45 1072.94L540.45 1071.09L540.45 1069.24L540.45 1067.39L540.45 1065.54L540.45 1063.69L540.45 1061.84L540.45 1059.99L540.45 1058.14L540.45 1056.29L540.45 1054.45L540.45 1052.60L540.45 1050.75L540.45 1048.90L540.45 1047.05L540.45 1045.20L540.45 1043.35L540.45 1041.50L540.45 1039.65L540.45 1037.80L540.45 1035.95L540.45 1034.10L540.45 1032.25L540.45 1030.40L540.45 1028.55L540.45 1026.70L540.45 1024.85L540.45 1023.01L540.45 1021.16L540.45 1019.31L540.45 1017.46L540.45 1015.61L540.45 1013.76L540.45 1011.91L540.45 1010.06L540.45 1008.21L540.45 1006.36L540.45 1004.51L540.45 1002.66L540.45 1000.81L540.45 998.96L540.45 997.11L540.45 995.26L540.45 993.41L540.45 991.56L540.45 989.72L540.45 987.87L540.45 986.02L540.45 984.17L540.45 982.32L540.45 980.47L540.45 978.62L540.45 976.77L540.45 974.92L540.45 973.07L540.45 971.22L540.45 969.37L540.45 967.52L540.45 965.67L540.45 963.82L540.45 961.97L540.45 960.12L540.45 958.28L540.45 956.43L540.45 954.58L540.45 952.73L540.45 950.88L540.45 949.03L540.45 947.18L540.45 945.33L540.45 943.48L540.45 941.63L540.45 939.78L540.45 937.93L540.45 936.08L540.45 934.23L540.45 932.38L540.45 930.53L540.45 928.68L540.45 926.84L540.45 924.99L540.45 923.14L540.45 921.29L540.45 919.44L540.45 917.59L540.45 915.74L540.45 913.89L540.45 912.04L540.45 910.19L540.45 908.34L540.45 906.49L540.45 904.64L540.45 902.79L540.45 900.94L540.55 899.09L540.84 897.24L541.22 895.39L541.83 893.55L542.68 891.70L544.10 889.85L545.92 888.00L547.86 886.15L550.05 884.30L552.48 882.45L555.23 880.60L558.14 878.75L561.22 876.90L564.34 875.05L567.24 873.20L569.98 871.35L572.72 869.50L575.42 867.65L578.27 865.80L581.40 863.95L584.85 862.11L588.84 860.26L593.47 858.41L598.48 856.56L604.13 854.71L609.56 852.86L614.56 851.01L618.94 849.16L623.03 847.31L625.27 845.46L626.26 843.61L625.84 841.76L624.20 839.91L621.26 838.06L617.19 836.21L611.77 834.36L605.38 832.51L598.64 830.67L591.36 828.82L584.32 826.97L577.46 825.12L570.83 823.27L564.11 821.42L558.07 819.57L553.86 817.72L550.61 815.87L547.81 814.02L545.20 812.17L543.27 810.32L542.04 808.47L541.19 806.62L540.84 804.77L540.61 802.92L540.47 801.07L540.45 799.23L540.45 797.38L540.45 795.53L540.45 793.68L540.45 791.83L540.45 789.98L540.45 788.13L540.45 786.28L540.45 784.43L540.45 782.58L540.45 780.73L540.45 778.88L540.45 777.03L540.45 775.18L540.45 773.33L540.45 771.48L540.45 769.63L540.45 767.78L540.45 765.94L540.45 764.09L540.45 762.24L540.45 760.39L540.45 758.54L540.45 756.69L540.45 754.84L540.45 752.99L540.45 751.14L540.55 749.29L540.78 747.44L541.15 745.59L541.69 743.74L542.46 741.89L543.53 740.04L544.93 738.19L546.71 736.34L548.85 734.50L551.33 732.65L554.04 730.80L556.84 728.95L559.54 727.10L561.95 725.25L563.85 723.40L565.06 721.55L565.50 719.70Z" fill="#619CFF" fill-opacity="0.6" stroke="#262626" stroke-width="1.15" stroke-linejoin="round"/>
<circle cx="157.4" cy="941.8" r="1.25" fill="#000"/>
<circle cx="157.4" cy="987.8" r="1.25" fill="#000"/>
<circle cx="157.4" cy="1074.6" r="1.25" fill="#000"/>
<circle cx="157.4" cy="1094.6" r="1.25" fill="#000"/>
<circle cx="157.4" cy="1099.7" r="1.25" fill="#000"/>
<circle cx="157.4" cy="1116.8" r="1.25" fill="#000"/>
<circle cx="157.4" cy="1148.4" r="1.25" fill="#000"/>
<circle cx="157.4" cy="1179.8" r="1.25" fill="#000"/>
<circle cx="348.9" cy="788.1" r="1.25" fill="#000"/>
<circle cx="348.9" cy="914.4" r="1.25" fill="#000"/>
<circle cx="348.9" cy="923.6" r="1.25" fill="#000"/>
<circle cx="348.9" cy="950.7" r="1.25" fill="#000"/>
<circle cx="348.9" cy="992.0" r="1.25" fill="#000"/>
<circle cx="540.2" cy="719.8" r="1.25" fill="#000"/>
<circle cx="540.2" cy="835.0" r="1.25" fill="#000"/>
<circle cx="540.2" cy="842.0" r="1.25" fill="#000"/>
<circle cx="540.2" cy="845.0" r="1.25" fill="#000"/>
<circle cx="540.2" cy="852.6" r="1.25" fill="#000"/>
<circle cx="540.2" cy="871.8" r="1.25" fill="#000"/>
<circle cx="540.2" cy="1198.6" r="1.25" fill="#000"/>
<line x1="207.0" y1="1087.0" x2="162.6" y2="1077.3" stroke="#222" stroke-width="1.3"/>
<path d="M167.7 1074.6 L162.6 1077.3 L166.1 1081.9" fill="none" stroke="#111" stroke-width="1.3" stroke-linecap="round" stroke-linejoin="round"/>
<line x1="207.0" y1="1087.0" x2="162.6" y2="1094.0" stroke="#222" stroke-width="1.3"/>
<path d="M166.4 1089.6 L162.6 1094.0 L167.6 1097.0" fill="none" stroke="#111" stroke-width="1.3" stroke-linecap="round" stroke-linejoin="round"/>
<text x="208.2" y="1090.8" font-size="14" font-weight="bold">perinate</text>
<line x1="400.0" y1="950.6" x2="356.5" y2="950.6" stroke="#222" stroke-width="1.3"/>
<path d="M360.9 946.9 L356.5 950.6 L360.9 954.3" fill="none" stroke="#111" stroke-width="1.3" stroke-linecap="round" stroke-linejoin="round"/>
<text x="401.5" y="954" font-size="14" font-weight="bold">perinate</text>
<line x1="446.8" y1="853.4" x2="532.5" y2="853.4" stroke="#222" stroke-width="1.3"/>
<path d="M528.1 857.1 L532.5 853.4 L528.1 849.7" fill="none" stroke="#111" stroke-width="1.3" stroke-linecap="round" stroke-linejoin="round"/>
<text x="443.8" y="857.5" font-size="14" font-weight="bold" text-anchor="end">perinate</text>
<line x1="348.9" y1="994.4" x2="348.9" y2="1027.6" stroke="#222" stroke-width="1.6" stroke-dasharray="5.2 2.2"/>
<path d="M344.5 1024.5 L348.9 1027.6 L353.3 1024.5" fill="none" stroke="#111" stroke-width="1.6" stroke-linecap="round" stroke-linejoin="round"/>
<line x1="272.0" y1="1189.3" x2="176.4" y2="1181.0" stroke="#222" stroke-width="1.3"/>
<path d="M181.1 1177.7 L176.4 1181.0 L180.5 1185.1" fill="none" stroke="#111" stroke-width="1.3" stroke-linecap="round" stroke-linejoin="round"/>
<line x1="426.0" y1="1190.0" x2="510.0" y2="1199.5" stroke="#222" stroke-width="1.3"/>
<path d="M505.2 1202.7 L510.0 1199.5 L506.0 1195.3" fill="none" stroke="#111" stroke-width="1.3" stroke-linecap="round" stroke-linejoin="round"/>
<text x="274.5" y="1193.5" font-size="14" font-weight="bold">16 days post-hatching</text>
<text transform="translate(293.2 853.4) rotate(-90)" font-size="13.8" font-weight="bold" text-anchor="middle">EMBRYONIC</text>
<text transform="translate(293.2 969.5) rotate(-90)" font-size="13.8" font-weight="bold" text-anchor="middle">HATCHED</text>
<text transform="translate(623.4 782.8) rotate(-90)" font-size="13.8" font-weight="bold" text-anchor="middle">EMBRYONIC</text>
<text transform="translate(623.4 1027.0) rotate(-90)" font-size="13.8" font-weight="bold" text-anchor="middle">HATCHED</text>
<rect x="37.9" y="696.0" width="639.5" height="535.3" fill="none" stroke="#2e2e2e" stroke-width="1.3"/>
<text transform="translate(52.7 724.7) scale(1 1.15)" font-size="22.6" font-weight="bold">%PTC</text>
<text transform="translate(25.5 1155.5) scale(1 1.05)" font-size="20.5" font-weight="bold" text-anchor="end">30</text>
<text transform="translate(25.5 1036.4) scale(1 1.05)" font-size="20.5" font-weight="bold" text-anchor="end">40</text>
<text transform="translate(25.5 917.2) scale(1 1.05)" font-size="20.5" font-weight="bold" text-anchor="end">50</text>
<text transform="translate(25.5 798.1) scale(1 1.05)" font-size="20.5" font-weight="bold" text-anchor="end">60</text>
<use href="#rooster" x="139.3" y="1239.3"/>
<use href="#dino" transform="translate(307 1240.6) scale(1.015)"/>
<use href="#pigeon" x="509" y="1241.6"/>
<text x="158.4" y="1305.3" font-size="17.6" font-weight="bold" font-style="italic" text-anchor="middle">Gallus</text>
<text x="349" y="1305.3" font-size="17.6" font-weight="bold" font-style="italic" text-anchor="middle">Lufengosaurus</text>
<text x="540" y="1305.3" font-size="17.6" font-weight="bold" font-style="italic" text-anchor="middle">Columba</text>
</svg>
</body></html>
